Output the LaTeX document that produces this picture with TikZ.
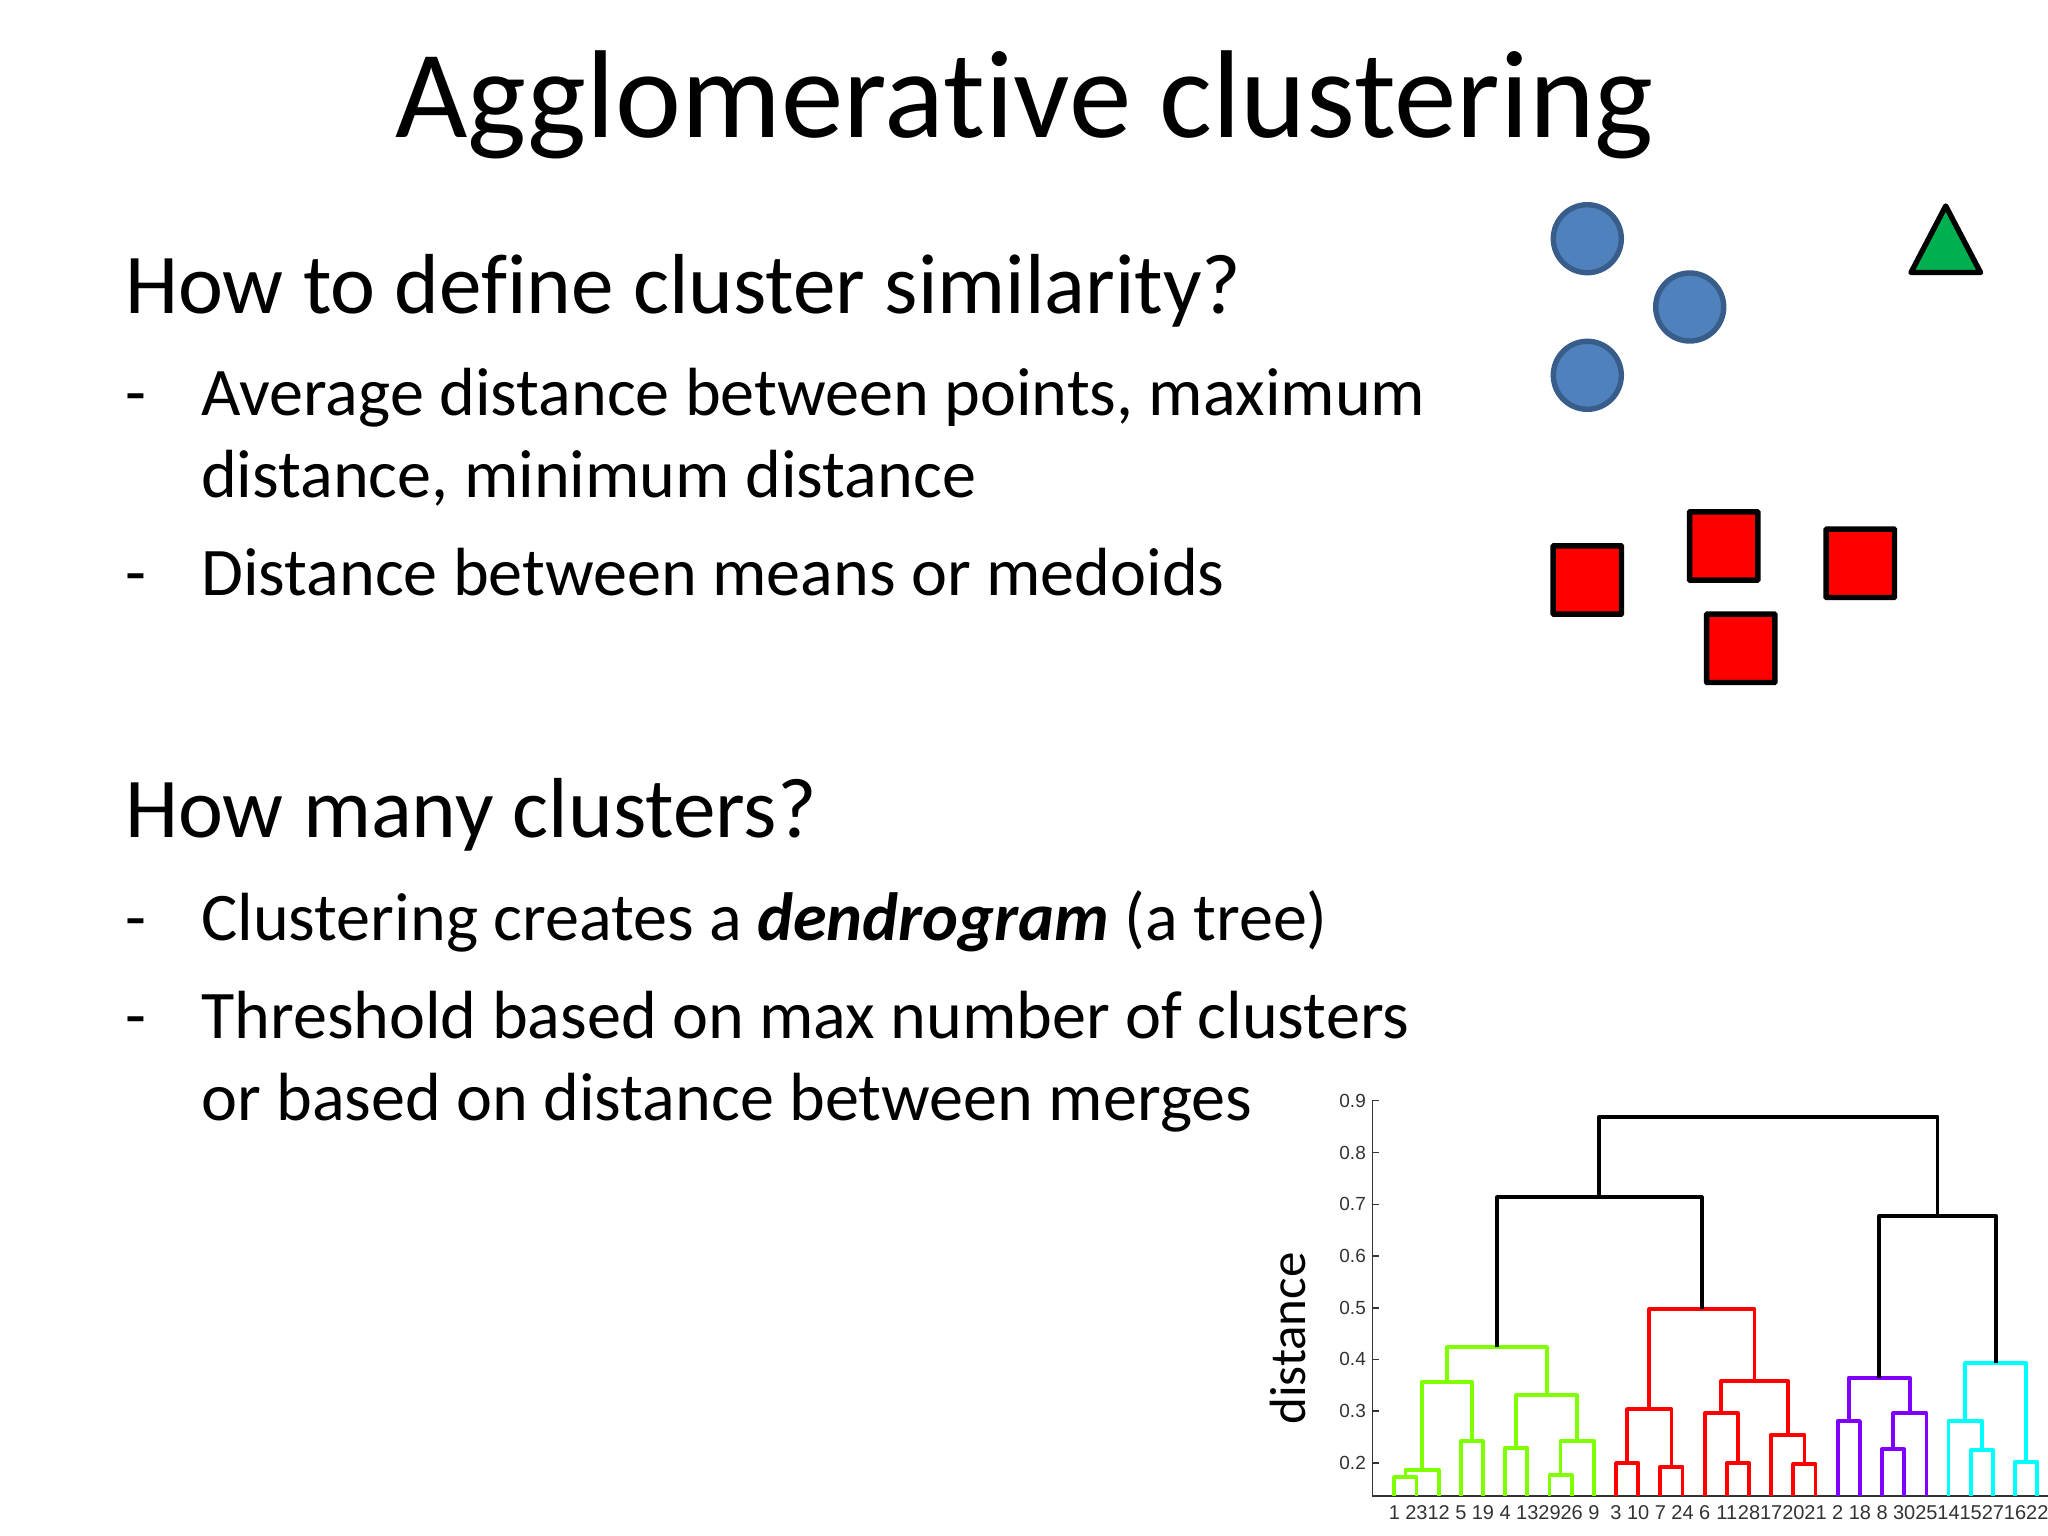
\documentclass[tikz,border=0pt]{standalone}
\usepackage{fontspec}
\setmainfont[Ligatures=NoCommon]{Carlito}
\newfontfamily\plotfont{Liberation Sans}
\newcommand{\merge}[6]{\draw[dendro,#1] (#2,#3) |- (#4,#6) -- (#4,#5);}
\tikzset{
  x=1pt,y=-1pt,
  titletext/.style={anchor=base,inner sep=0pt,font=\fontsize{125}{125}\selectfont},
  headtext/.style={anchor=base west,inner sep=0pt,font=\fontsize{85.2}{85.2}\selectfont},
  bodytext/.style={anchor=base west,inner sep=0pt,font=\fontsize{68.15}{68.15}\selectfont},
  blueball/.style={circle,draw=bluestroke,fill=bluefill,line width=5.4pt,minimum size=68pt,inner sep=0pt,outer sep=0pt},
  redbox/.style={rectangle,draw=black,fill=red,line width=5.4pt,minimum size=68.3pt,inner sep=0pt,outer sep=0pt,rounded corners=0.6pt},
  dendro/.style={line width=3.8pt,line join=round},
  axisline/.style={line width=1.3pt,draw=axisgray},
  ticklabel/.style={anchor=east,inner sep=0pt,text=axisgray,font=\plotfont\fontsize{19}{19}\selectfont},
  leaflabel/.style={anchor=center,inner sep=0pt,text=axisgray,font=\plotfont\fontsize{20}{20}\selectfont},
}
\definecolor{bluefill}{HTML}{4F81BD}
\definecolor{bluestroke}{HTML}{385D8A}
\definecolor{trigreen}{HTML}{00B050}
\definecolor{axisgray}{HTML}{333333}
\definecolor{dgreen}{HTML}{7FFF00}
\definecolor{dred}{HTML}{FF0000}
\definecolor{dpurple}{HTML}{7F00FF}
\definecolor{dcyan}{HTML}{00FFFF}
\begin{document}
\begin{tikzpicture}
\fill[white] (0,0) rectangle (2048,1536);
\useasboundingbox (0,0) rectangle (2048,1536);
\node[titletext] (title) at (1024.6,138) {Agglomerative clustering};
\node[headtext] (h1) at (125,313) {How to define cluster similarity?};
\node[bodytext] (d1) at (125,415) {-};
\node[bodytext] (b1) at (201,415) {Average distance between points, maximum};
\node[bodytext] (b1b) at (201,497.5) {distance, minimum distance};
\node[bodytext] (d2) at (125,595.5) {-};
\node[bodytext] (b2) at (201,595.5) {Distance between means or medoids};
\node[headtext] (h2) at (125,837) {How many clusters?};
\node[bodytext] (d3) at (125,940) {-};
\node[bodytext] (b3) at (201,940) {Clustering creates a \textbf{\textit{dendrogram}} (a tree)};
\node[bodytext] (d4) at (125,1038) {-};
\node[bodytext] (b4) at (201,1038) {Threshold based on max number of clusters};
\node[bodytext] (b4b) at (201,1120) {or based on distance between merges};
\node[blueball] (c1) at (1587.3,238.7) {};
\node[blueball] (c2) at (1689.7,307) {};
\node[blueball] (c3) at (1587.3,375.3) {};
\node[redbox] (s1) at (1587.3,580) {};
\node[redbox] (s2) at (1723.7,546) {};
\node[redbox] (s3) at (1860.3,563.3) {};
\node[redbox] (s4) at (1740.7,648.3) {};
\draw[fill=trigreen,draw=black,line width=5.4pt,line join=round] (1945.7,206) -- (1980.5,272.5) -- (1911,272.5) -- cycle;
\node[rotate=90,anchor=center,inner sep=0pt,font=\fontsize{51}{51}\selectfont] (dist) at (1288,1338.5) {distance};
% axes
\draw[axisline] (1379,1100.7) -- (1372.3,1100.7) -- (1372.3,1496) -- (2048,1496);
\foreach \v/\yy in {0.9/1100.7,0.8/1152.7,0.7/1204.3,0.6/1256,0.5/1308,0.4/1359.3,0.3/1411,0.2/1463}{
  \draw[axisline] (1372.3,\yy) -- (1379,\yy);
  \node[ticklabel] (tick\v) at (1366,\yy) {\v};
}
% dendrogram: x = leaf index, y = zoomed row
\begin{scope}[shift={(1394.3,1080)},x=22.17pt,y=-0.33333pt]
\foreach \lab [count=\i from 0] in {1,23,12,5,19,4,13,29,26,9,3,10,7,24,6,11,28,17,20,21,2,18,8,30,25,14,15,27,16,22}{
  \node[leaflabel] (leaf\i) at (\i,1297) {\lab};
}
\def\b{1248}
\merge{dgreen}{0}{\b}{1}{\b}{1192}
\merge{dgreen}{0.5}{1192}{2}{\b}{1170}
\merge{dgreen}{3}{\b}{4}{\b}{1082}
\merge{dgreen}{1.25}{1170}{3.5}{1082}{905}
\merge{dgreen}{5}{\b}{6}{\b}{1103}
\merge{dgreen}{7}{\b}{8}{\b}{1186}
\merge{dgreen}{7.5}{1186}{9}{\b}{1082}
\merge{dgreen}{5.5}{1103}{8.25}{1082}{946}
\merge{dgreen}{2.375}{905}{6.875}{946}{802}
\merge{dred}{10}{\b}{11}{\b}{1149}
\merge{dred}{12}{\b}{13}{\b}{1160}
\merge{dred}{10.5}{1149}{12.5}{1160}{987}
\merge{dred}{15}{\b}{16}{\b}{1149}
\merge{dred}{14}{\b}{15.5}{1149}{1000}
\merge{dred}{18}{\b}{19}{\b}{1153}
\merge{dred}{17}{\b}{18.5}{1153}{1064}
\merge{dred}{14.75}{1000}{17.75}{1064}{902}
\merge{dred}{11.5}{987}{16.25}{902}{688}
\merge{dpurple}{20}{\b}{21}{\b}{1023}
\merge{dpurple}{22}{\b}{23}{\b}{1108}
\merge{dpurple}{22.5}{1108}{24}{\b}{1000}
\merge{dpurple}{20.5}{1023}{23.25}{1000}{893}
\merge{dcyan}{26}{\b}{27}{\b}{1111}
\merge{dcyan}{25}{\b}{26.5}{1111}{1023}
\merge{dcyan}{28}{\b}{29}{\b}{1145}
\merge{dcyan}{25.75}{1023}{28.5}{1145}{850}
\merge{black}{4.625}{802}{13.875}{688}{352}
\merge{black}{21.875}{893}{27.125}{850}{407}
\merge{black}{9.25}{352}{24.5}{407}{110}
\end{scope}
\end{tikzpicture}
\end{document}
